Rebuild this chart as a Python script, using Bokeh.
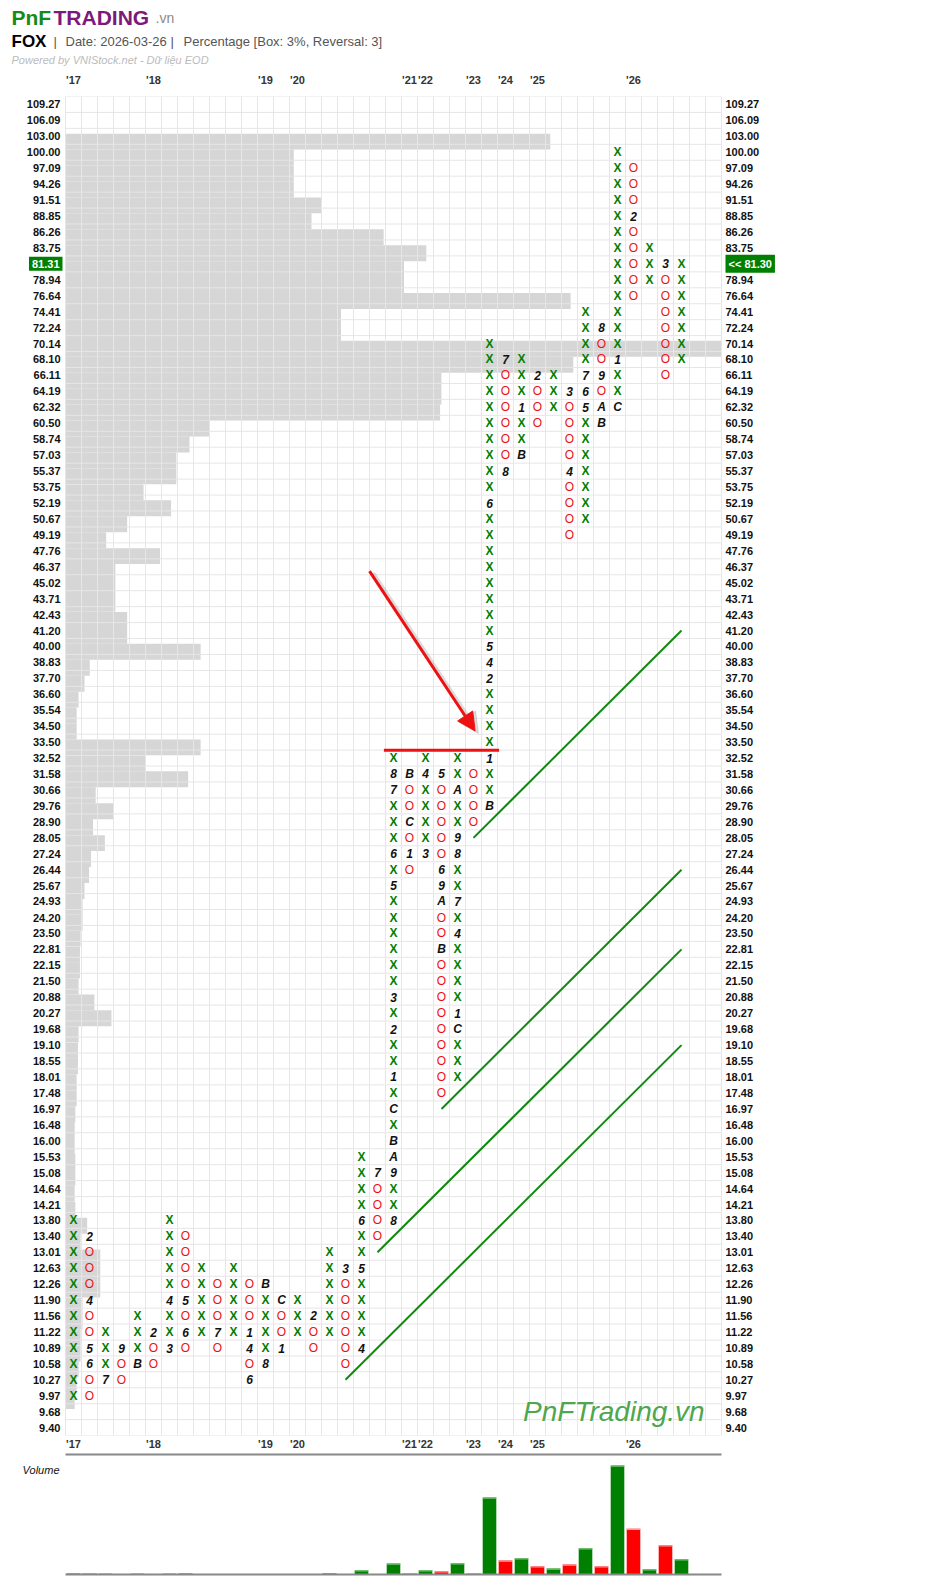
import math
from bokeh.plotting import figure
from bokeh.models import (Range1d, FixedTicker, PrintfTickFormatter, LogAxis,
                          LinearAxis, Label, Arrow, NormalHead)
from bokeh.layouts import column
from bokeh.core.properties import value
from bokeh.embed import file_html
from bokeh.resources import INLINE

FONT = "Liberation Sans"

# ---------------- data ----------------
box_prices = [109.27, 106.09, 103.00, 100.00, 97.09, 94.26, 91.51, 88.85, 86.26, 83.75,
              81.31, 78.94, 76.64, 74.41, 72.24, 70.14, 68.10, 66.11, 64.19, 62.32,
              60.50, 58.74, 57.03, 55.37, 53.75, 52.19, 50.67, 49.19, 47.76, 46.37,
              45.02, 43.71, 42.43, 41.20, 40.00, 38.83, 37.70, 36.60, 35.54, 34.50,
              33.50, 32.52, 31.58, 30.66, 29.76, 28.90, 28.05, 27.24, 26.44, 25.67,
              24.93, 24.20, 23.50, 22.81, 22.15, 21.50, 20.88, 20.27, 19.68, 19.10,
              18.55, 18.01, 17.48, 16.97, 16.48, 16.00, 15.53, 15.08, 14.64, 14.21,
              13.80, 13.40, 13.01, 12.63, 12.26, 11.90, 11.56, 11.22, 10.89, 10.58,
              10.27, 9.97, 9.68, 9.40]

# volume at price (percent of the largest row), aligned with box_prices
vap = [0, 0, 73.9, 34.8, 34.8, 34.8, 39.0, 37.5, 48.5, 55.0,
       51.6, 51.6, 77.0, 42.0, 42.0, 100, 77.4, 57.3, 57.3, 57.1,
       22.0, 18.9, 16.9, 16.9, 11.9, 16.1, 9.4, 6.2, 14.4, 7.6,
       7.6, 7.6, 9.4, 9.4, 20.6, 3.7, 2.9, 2.0, 1.7, 1.7,
       20.6, 12.2, 18.7, 4.6, 7.3, 4.2, 6.0, 3.9, 3.6, 2.9,
       2.6, 2.6, 2.3, 2.2, 2.2, 2.0, 4.4, 7.0, 2.0, 1.9,
       1.9, 1.7, 1.7, 1.5, 1.4, 1.4, 1.5, 1.5, 1.4, 1.5,
       3.3, 2.3, 5.3, 5.3, 5.3, 2.6, 2.6, 2.3, 2.3, 2.0,
       1.7, 1.4, 0, 0]

col_types = list("XOXOXOXOXOXOXOXOXOXOXOXOXOXOXOXOXOXOXOX")
col_low = [9.97, 9.97, 10.27, 10.27, 10.58, 10.58, 10.89, 10.89, 11.22, 10.89,
           11.22, 10.27, 10.58, 10.89, 11.22, 10.89, 11.22, 10.58, 10.89, 13.40,
           13.80, 26.44, 27.24, 17.48, 18.01, 28.90, 29.76, 55.37, 57.03, 60.50,
           62.32, 49.19, 50.67, 60.50, 62.32, 76.64, 78.94, 66.11, 68.10]
col_high = [13.80, 13.40, 11.22, 10.89, 11.56, 11.22, 13.80, 13.40, 12.63, 12.26,
            12.63, 12.26, 12.26, 11.90, 11.90, 11.56, 13.01, 12.63, 15.53, 15.08,
            32.52, 31.58, 32.52, 31.58, 32.52, 31.58, 70.14, 68.10, 68.10, 66.11,
            66.11, 64.19, 74.41, 72.24, 100.00, 97.09, 83.75, 81.31, 81.31]

month_cols = [1, 1, 1, 1, 2, 3, 4, 5, 6, 6, 7, 7, 9, 11, 11, 11, 12, 12, 13, 13, 15, 17,
              18, 18, 18, 19,
              20, 20, 20, 20, 20, 20, 20, 20, 20, 20, 20, 20,
              21, 21, 21, 22, 22, 23, 23, 23, 23, 23,
              24, 24, 24, 24, 24, 24, 24,
              26, 26, 26, 26, 26, 26, 27, 27, 28, 28, 29, 31, 31, 32, 32, 32,
              33, 33, 33, 33, 34, 34, 35, 37]
month_prices = [13.40, 11.90, 10.89, 10.58, 10.27, 10.89, 10.58, 11.22, 10.89, 11.90,
                11.90, 11.22, 11.22, 11.22, 10.89, 10.27, 10.58, 12.26, 11.90, 10.89,
                11.56, 12.63, 10.89, 12.63, 13.80, 15.08,
                13.80, 15.08, 15.53, 16.00, 16.97, 18.01, 19.68, 20.88, 25.67, 27.24, 30.66, 31.58,
                31.58, 28.90, 27.24, 27.24, 31.58, 31.58, 26.44, 25.67, 24.93, 22.81,
                19.68, 20.27, 23.50, 24.93, 27.24, 28.05, 30.66,
                29.76, 32.52, 37.70, 38.83, 40.00, 52.19, 68.10, 55.37, 57.03, 62.32,
                66.11, 64.19, 55.37, 62.32, 64.19, 66.11,
                72.24, 66.11, 62.32, 60.50, 62.32, 68.10, 88.85, 81.31]
month_labels = ["2", "4", "5", "6", "7", "9", "B", "2", "3", "4", "5", "6", "7", "1", "4", "6",
                "8", "B", "C", "1", "2", "3", "4", "5", "6", "7",
                "8", "9", "A", "B", "C", "1", "2", "3", "5", "6", "7", "8",
                "B", "C", "1", "3", "4", "5", "6", "9", "A", "B",
                "C", "1", "4", "7", "8", "9", "A",
                "B", "1", "2", "4", "5", "6", "7", "8", "B", "1", "2", "3", "4", "5", "6", "7",
                "8", "9", "A", "B", "C", "1", "2", "3"]

# volume per column
col_volume = [1.0, 1.5, 0.8, 0.3, 0.8, 0.3, 0.8, 1.3, 0.3, 0.6,
              0.3, 0.3, 0.6, 0.6, 0.6, 0.3, 1.3, 0.6, 4.3, 0.6,
              11.0, 1.5, 4.3, 3.3, 11.3, 1.5, 77.0, 14.0, 16.3, 8.3,
              6.0, 10.0, 26.3, 8.3, 109.0, 45.7, 5.3, 29.3, 15.3]

year_cols = [0, 5, 12, 14, 21, 22, 25, 27, 29, 35]
year_labels = ["'17", "'18", "'19", "'20", "'21", "'22", "'23", "'24", "'25", "'26"]

last_box = 81.31
last_price = 81.30

trend_c0 = [25, 23, 19, 17]
trend_p0 = [28.05, 16.97, 13.01, 10.27]
trend_c1 = [38, 38, 38, 38]
trend_p1 = [41.20, 26.44, 22.81, 19.10]

res_cols = [20, 26]
res_price = 33.0

arrow_c = [18.5, 25.1]
arrow_p = [46.0, 34.2]

N_COLS = 41
BOX = 1.03

# ---------------- layout constants ----------------
PAGE_W = 800
CELL = 16
GRID_LEFT = 65
X0 = -0.5 - GRID_LEFT / CELL
X1 = X0 + PAGE_W / CELL
GL, GR = -0.5, N_COLS - 0.5

# ---------------- build cells ----------------
marks = {(c, pr): lb for c, pr, lb in zip(month_cols, month_prices, month_labels)}
xx, xy, ox, oy, mx, my, mt = [], [], [], [], [], [], []
for j, (t, lo, hi) in enumerate(zip(col_types, col_low, col_high)):
    for pr in box_prices:
        if lo - 1e-9 <= pr <= hi + 1e-9:
            if (j, pr) in marks:
                mx.append(j); my.append(pr); mt.append(marks[(j, pr)])
            elif t == "X":
                xx.append(j); xy.append(pr)
            else:
                ox.append(j); oy.append(pr)

ymin = box_prices[-1] / math.sqrt(BOX)
ymax = box_prices[0] * math.sqrt(BOX)


def clear_bg(fig):
    fig.grid.visible = False
    fig.outline_line_color = None
    fig.background_fill_color = None
    fig.border_fill_color = None


# ---------------- header ----------------
HH = 70
h = figure(width=PAGE_W, height=HH, x_range=Range1d(0, PAGE_W), y_range=Range1d(HH, 0),
           output_backend="svg", toolbar_location=None,
           min_border_left=0, min_border_right=0, min_border_top=0, min_border_bottom=0,
           x_axis_location=None, y_axis_location=None)
clear_bg(h)


def htext(x, y, s, size, color, style="normal"):
    h.text(x=[x], y=[y], text=[s], text_font=value(FONT), text_font_size=size,
           text_color=color, text_font_style=style, text_baseline="alphabetic",
           text_align="left")


htext(11, 17, "PnF", "21px", "#178a17", "bold")
htext(53, 17, "TRADING", "21px", "#7b1a7b", "bold")
htext(155, 17, ".vn", "14px", "#8a8a8a")
htext(11, 41, "FOX", "17px", "#000000", "bold")
htext(53, 41, "|", "13px", "#555555")
htext(65, 41, "Date: 2026-03-26", "13px", "#555555")
htext(170, 41, "|", "13px", "#555555")
htext(183, 41, "Percentage [Box: 3%, Reversal: 3]", "13px", "#555555")
htext(11, 59, "Powered by VNIStock.net - Dữ liệu EOD", "11px", "#bbbbbb", "italic")

# ---------------- main chart ----------------
p = figure(width=PAGE_W, height=1382, x_range=Range1d(X0, X1),
           y_range=Range1d(ymin, ymax), y_axis_type="log",
           output_backend="svg", toolbar_location=None,
           x_axis_location=None, y_axis_location=None,
           min_border_left=0, min_border_right=0, min_border_top=22, min_border_bottom=16)
clear_bg(p)

y_ticks = [b for b in box_prices if b != last_box]
la = LogAxis(ticker=FixedTicker(ticks=y_ticks), formatter=PrintfTickFormatter(format="%.2f"),
             fixed_location=GL)
ra = LogAxis(ticker=FixedTicker(ticks=y_ticks), formatter=PrintfTickFormatter(format="%.2f"),
             fixed_location=GR)
p.add_layout(la, "left")
p.add_layout(ra, "right")

year_over = {c: l for c, l in zip(year_cols, year_labels)}
ba = LinearAxis(ticker=FixedTicker(ticks=year_cols), major_label_overrides=year_over)
ta = LinearAxis(ticker=FixedTicker(ticks=year_cols), major_label_overrides=year_over)
p.add_layout(ba, "below")
p.add_layout(ta, "above")


def style_axis(ax, color, standoff):
    ax.axis_line_color = None
    ax.major_tick_line_color = None
    ax.minor_tick_line_color = None
    ax.major_tick_in = 0
    ax.major_tick_out = 0
    ax.minor_tick_in = 0
    ax.minor_tick_out = 0
    ax.major_label_text_font = FONT
    ax.major_label_text_font_size = "11px"
    ax.major_label_text_font_style = "bold"
    ax.major_label_text_color = color
    ax.major_label_standoff = standoff


style_axis(la, "#111111", 5)
style_axis(ra, "#111111", 4)
style_axis(ba, "#333333", 2)
style_axis(ta, "#333333", 11)

# volume-at-price bars (behind grid)
vb_price = [pr for pr, v in zip(box_prices, vap) if v > 0]
vb_val = [v for v in vap if v > 0]
p.quad(left=[GL] * len(vb_val), right=[GL + v / 100.0 * N_COLS for v in vb_val],
       top=[pr * BOX ** 0.17 for pr in vb_price], bottom=[pr / BOX ** 0.83 for pr in vb_price],
       fill_color="#d6d6d6", line_color=None)

# grid
bounds = [ymin] + [math.sqrt(a * b) for a, b in zip(box_prices[:-1], box_prices[1:])] + [ymax]
vx = [j - 0.5 for j in range(N_COLS + 1)]
p.segment(x0=vx, x1=vx, y0=[ymin] * len(vx), y1=[ymax] * len(vx),
          line_color="#e6e6e6", line_width=1)
p.segment(x0=[GL] * len(bounds), x1=[GR] * len(bounds), y0=bounds, y1=bounds,
          line_color="#e6e6e6", line_width=1)

# trend lines
for c0, p0, c1, p1 in zip(trend_c0, trend_p0, trend_c1, trend_p1):
    p.line(x=[c0, c1], y=[p0, p1], line_color="#118811", line_width=2)

# resistance line
p.line(x=[res_cols[0] - 0.6, res_cols[1] + 0.6], y=[res_price, res_price],
       line_color="#ee1111", line_width=3)

# X / O / month markers
p.text(x=xx, y=xy, text=["X"] * len(xx), text_color="#008000", text_font=value(FONT),
       text_font_style="bold", text_font_size="12px", text_align="center",
       text_baseline="middle")
p.text(x=ox, y=oy, text=["O"] * len(ox), text_color="#ee1111", text_font=value(FONT),
       text_font_style="normal", text_font_size="12px", text_align="center",
       text_baseline="middle")
p.text(x=mx, y=my, text=mt, text_color="#111111", text_font=value(FONT),
       text_font_style="bold italic", text_font_size="12px", text_align="center",
       text_baseline="middle")

# arrow (soft shadow + arrow)
p.add_layout(Arrow(end=NormalHead(size=20, fill_color="#999999", fill_alpha=0.35,
                                  line_color="#999999", line_alpha=0.35),
                   x_start=arrow_c[0] + 0.2, y_start=arrow_p[0] / BOX ** 0.15,
                   x_end=arrow_c[1] + 0.2, y_end=arrow_p[1] / BOX ** 0.15,
                   line_color="#999999", line_alpha=0.35, line_width=5))
p.add_layout(Arrow(end=NormalHead(size=18, fill_color="#ee1111", line_color="#ee1111"),
                   x_start=arrow_c[0], y_start=arrow_p[0], x_end=arrow_c[1], y_end=arrow_p[1],
                   line_color="#ee1111", line_width=3))

# last price boxes
p.add_layout(Label(x=GL, y=last_box, x_offset=-3, text="%.2f" % last_box,
                   text_align="right", text_baseline="middle", text_color="white",
                   text_font=FONT, text_font_size="11px", text_font_style="bold",
                   background_fill_color="#008000", padding=3))
p.add_layout(Label(x=GR, y=last_box, x_offset=4, text="<< %.2f" % last_price,
                   text_align="left", text_baseline="middle", text_color="white",
                   text_font=FONT, text_font_size="11px", text_font_style="bold",
                   background_fill_color="#008000", padding=3))

# watermark
p.add_layout(Label(x=28.1, y=box_prices[-2], text="PnFTrading.vn",
                   text_align="left", text_baseline="alphabetic", text_color="#4fa64f",
                   text_font=FONT, text_font_size="28px", text_font_style="italic"))

# ---------------- volume ----------------
v = figure(width=PAGE_W, height=138, x_range=p.x_range, y_range=Range1d(-4, 122),
           output_backend="svg", toolbar_location=None,
           min_border_left=0, min_border_right=0, min_border_top=0, min_border_bottom=12,
           x_axis_location=None, y_axis_location=None)
clear_bg(v)
vcols = list(range(len(col_volume)))
vcol_color = ["#008000" if t == "X" else "#ff0000" for t in col_types]
vcap_color = ["#7cc47c" if t == "X" else "#ff9a9a" for t in col_types]
v.vbar(x=vcols, top=col_volume, bottom=0, width=0.85, fill_color=vcol_color, line_color=None)
v.vbar(x=vcols, top=col_volume, bottom=[max(0.0, c - 1.2) for c in col_volume], width=0.85,
       fill_color=vcap_color, line_color=None)
v.segment(x0=[GL, GL], x1=[GR, GR], y0=[0, 120], y1=[0, 120],
          line_color="#888888", line_width=2)
v.add_layout(Label(x=GL, y=105, x_offset=-6, text="Volume", text_align="right",
                   text_baseline="middle", text_font=FONT, text_font_size="11px",
                   text_font_style="italic", text_color="#111111"))

layout = column(h, p, v)
open("out.html", "w").write(file_html(layout, INLINE))
